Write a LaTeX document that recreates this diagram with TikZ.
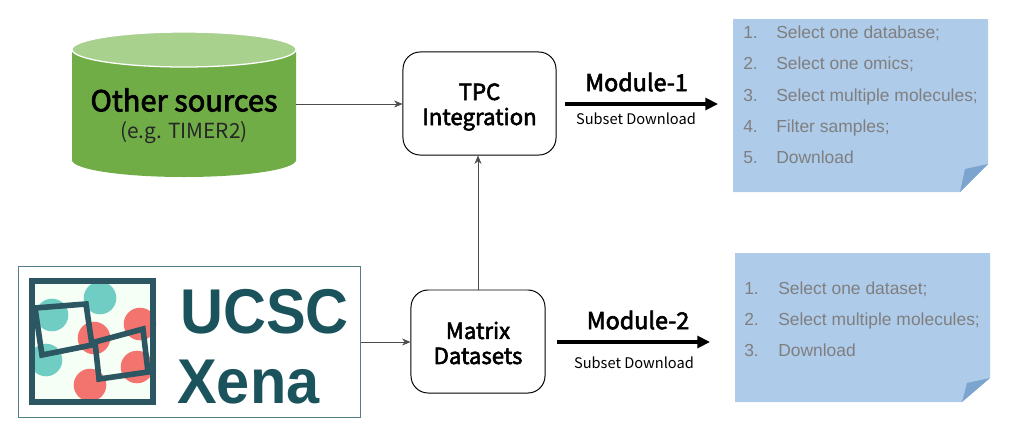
\documentclass[tikz,border=0pt]{standalone}
\usepackage{fontspec}
\setmainfont{Liberation Sans}
\newfontfamily\yahei{Noto Sans CJK SC}
\newfontfamily\yaheimed[FakeBold=2.6]{Noto Sans CJK SC}
\newfontfamily\xenafont[FakeStretch=.94]{Liberation Sans}
\usetikzlibrary{arrows.meta}
\definecolor{notefill}{HTML}{AECBEA}
\definecolor{notefold}{HTML}{7BA5CE}
\definecolor{notetext}{HTML}{7F7F7F}
\definecolor{dbside}{HTML}{70AD47}
\definecolor{dbtop}{HTML}{A9D18E}
\definecolor{xenadark}{HTML}{1B535C}
\definecolor{xenaframe}{HTML}{2C5661}
\definecolor{xenateal}{HTML}{70CDC3}
\definecolor{xenared}{HTML}{F3746F}
\tikzset{
    procbox/.style={draw,rounded corners=.43cm,line width=.7pt,minimum height=2.575cm},
    proctext/.style={align=center,inner sep=0pt,font=\yaheimed\fontsize{15.8}{18.6}\selectfont},
    thinarrow/.style={draw=black!70,line width=.45pt,-{Stealth[length=6pt,width=5pt]}},
    modarrow/.style={line width=2.2pt,-{Triangle[length=9pt,width=8.5pt]}},
    modtitle/.style={font=\yaheimed\fontsize{16.6}{18}\selectfont},
    modsub/.style={font=\yahei\fontsize{10.4}{12}\selectfont},
    listitem/.style={anchor=base west,inner sep=0pt,text=notetext,font=\fontsize{12.4}{15}\selectfont},
    xenaword/.style={anchor=base west,inner sep=0pt,text=xenadark,font=\xenafont\bfseries\fontsize{45}{50}\selectfont},
    xenaline/.style={xenaframe,line width=.14cm,line join=miter},
}
\begin{document}
\begin{tikzpicture}[x=.025cm,y=-.025cm]
    \useasboundingbox (0,0) rectangle (1011,436);
    % database
    \fill[dbside] (72,49) -- (72,160) arc[start angle=180,end angle=0,x radius=112,y radius=17] -- (296,49) -- cycle;
    \draw[fill=dbtop,draw=white,line width=.9pt] (184,49.5) ellipse [x radius=112,y radius=17.5];
    \node[minimum width=5.6cm,minimum height=2.8cm,inner sep=0pt] (source) at (184,104) {};
    \node[font=\yaheimed\fontsize{20.6}{22}\selectfont] (sourcename) at (184,100) {Other sources};
    \node[font=\yahei\fontsize{14.8}{15}\selectfont,text=black!85] (sourcenote) at (184,133) {(e.g. TIMER2)};
    % logo
    \node[draw=xenadark!75,line width=.7pt,minimum width=8.525cm,minimum height=3.75cm,inner sep=0pt] (xena) at (189.5,342) {};
    \fill[green!40!white,opacity=.1] (29,278) rectangle (156,405);
    \begin{scope}
        \clip (29,278) rectangle (156,405);
        \foreach \cx/\cy in {52/315,100/298,46/360}
            \fill[xenateal] (\cx,\cy) circle (16.3);
        \foreach \cx/\cy in {140/324,94/338,137/367,90/385}
            \fill[xenared] (\cx,\cy) circle (16.3);
    \end{scope}
    \draw[xenaframe,line width=.165cm] (32,281) rectangle (153,402);
    \draw[xenaline] (35,308) -- (86,304) -- (92,345) -- (42,355) -- cycle;
    \draw[xenaline] (95,342) -- (143,329) -- (148,372) -- (99,379) -- cycle;
    \node[xenaword] (ucsc) at (180,333) {UCSC};
    \node[xenaword] (xenaname) at (177,403) {Xena};
    % boxes
    \node[procbox,minimum width=3.825cm] (tpc) at (479.5,103.5) {};
    \node[proctext] (tpcname) at (479.5,107) {TPC\\[-.8pt]Integration};
    \node[procbox,minimum width=3.35cm] (matrix) at (478,341.5) {};
    \node[proctext] (matrixname) at (478,343) {Matrix\\[-.8pt]Datasets};
    \draw[thinarrow] (source.east) -- (source.east -| tpc.west);
    \draw[thinarrow] (xena.east) -- (xena.east -| matrix.west);
    \draw[thinarrow] (matrix.north) -- (matrix.north |- tpc.south);
    % module 1
    \coordinate (mod1start) at (565,104);
    \coordinate (mod1end) at (718,104);
    \draw[modarrow] (mod1start) -- (mod1end);
    \node[modtitle] (mod1title) at (636.5,82) {Module-1};
    \node[modsub] (mod1sub) at (636,119) {Subset Download};
    % module 2
    \coordinate (mod2start) at (557,342);
    \coordinate (mod2end) at (710,342);
    \draw[modarrow] (mod2start) -- (mod2end);
    \node[modtitle] (mod2title) at (638,320) {Module-2};
    \node[modsub] (mod2sub) at (634,363) {Subset Download};
    % note 1
    \fill[notefill] (733,19) -- (988,19) -- (988,164) -- (960,192) -- (733,192) -- cycle;
    \fill[notefold] (988,164) -- (965,169) -- (960,192) -- cycle;
    \foreach \i/\ty/\txt in {1/38/Select one database;,2/69/Select one omics;,3/101/Select multiple molecules;,4/132/Filter samples;,5/163/Download} {
        \node[listitem] (numa\i) at (743,\ty) {\i.};
        \node[listitem] (itema\i) at (776,\ty) {\txt};
    }
    % note 2
    \fill[notefill] (735,253) -- (990,253) -- (990,378) -- (962,402) -- (735,402) -- cycle;
    \fill[notefold] (990,378) -- (967,383) -- (962,402) -- cycle;
    \foreach \i/\ty/\txt in {1/294/Select one dataset;,2/325/Select multiple molecules;,3/356/Download} {
        \node[listitem] (numb\i) at (744,\ty) {\i.};
        \node[listitem] (itemb\i) at (778,\ty) {\txt};
    }
\end{tikzpicture}
\end{document}
